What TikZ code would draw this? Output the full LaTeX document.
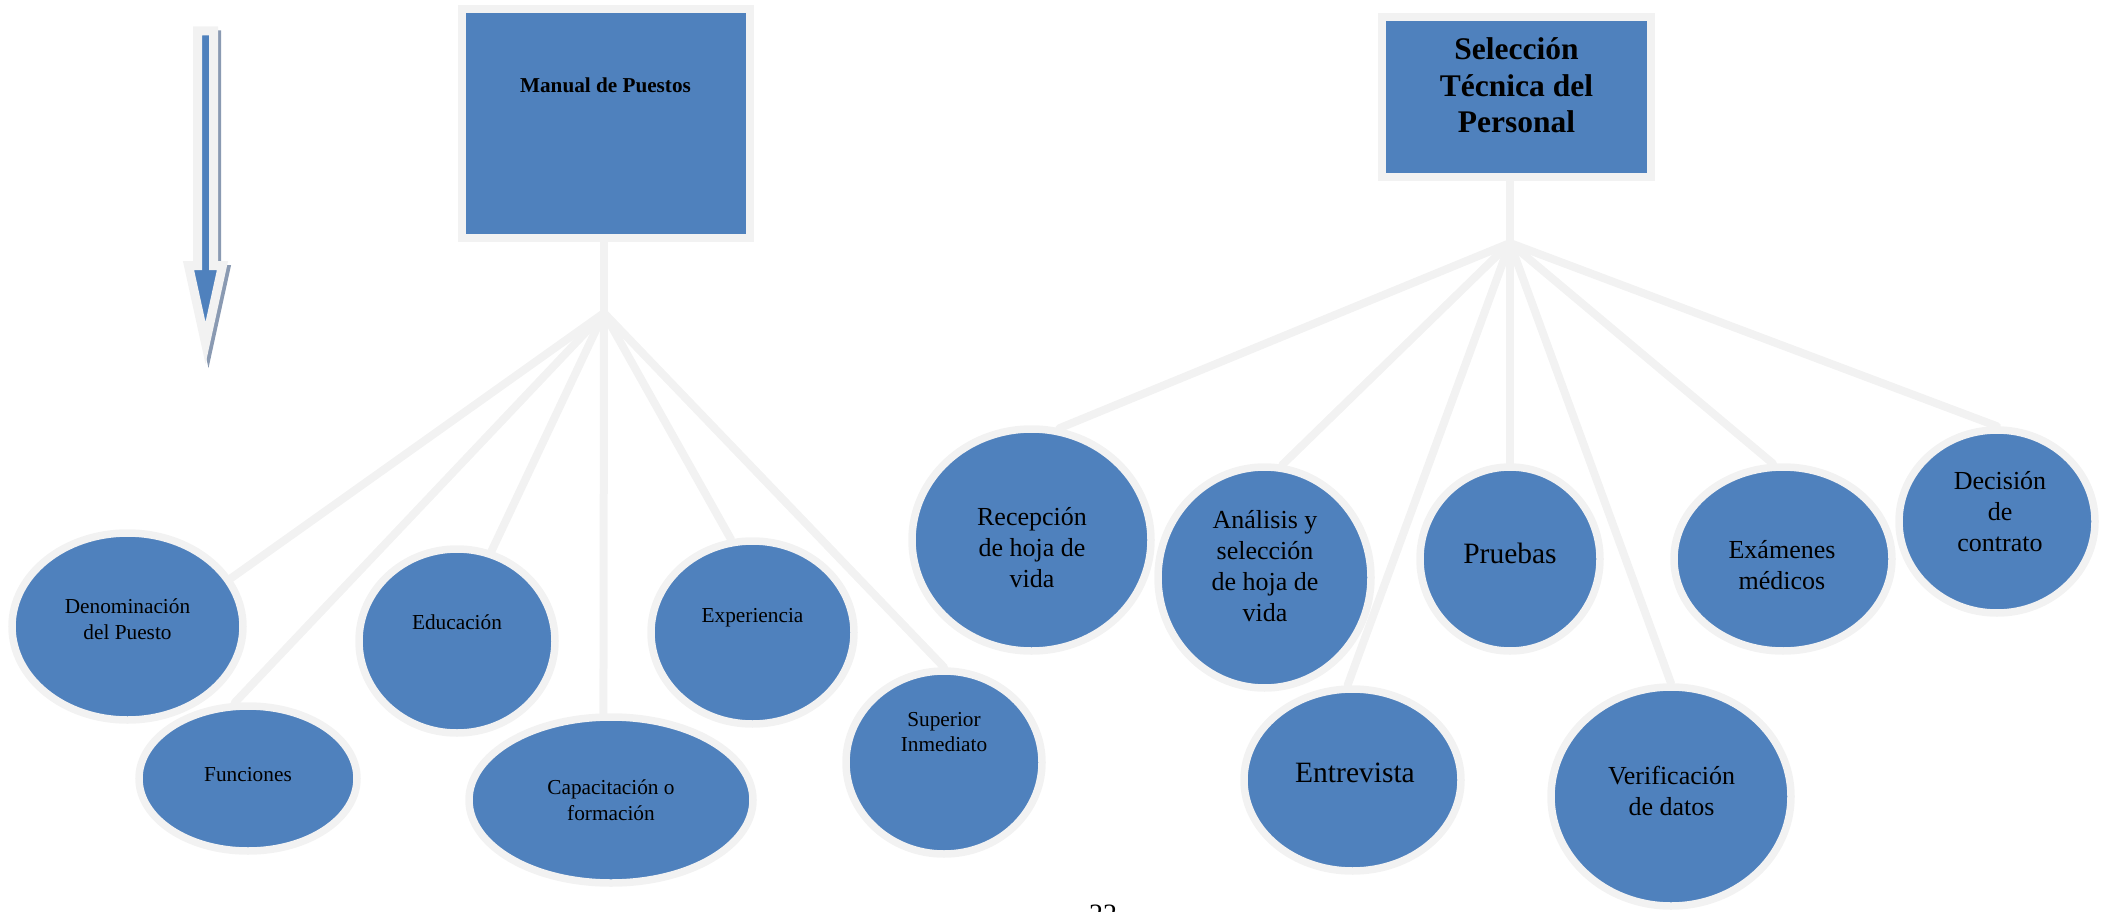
\documentclass[tikz,border=0pt]{standalone}
\usepackage{fontspec}
\setmainfont{Liberation Serif}
\usepackage{tikz}
\usetikzlibrary{shapes.geometric}
\usetikzlibrary{backgrounds}

\definecolor{ofblue}{HTML}{4F81BD}
\definecolor{ofline}{HTML}{F2F2F2}
\definecolor{ofshadow}{HTML}{8A9AB2}

\tikzset{
  box/.style={draw=ofline, fill=ofblue, line width=8pt, inner sep=0pt},
  oval/.style={ellipse, draw=ofline, fill=ofblue, line width=7.5pt, inner sep=0pt},
  link/.style={draw=ofline, line width=8pt, line cap=round},
  stxt/.style={inner sep=0pt, align=center, font=\fontsize{21.3}{25.5}\selectfont},
  btxt/.style={inner sep=0pt, align=center, font=\fontsize{26}{31}\selectfont},
  htxt/.style={inner sep=0pt, align=center, font=\fontsize{29.5}{34}\selectfont},
}

\begin{document}
\begin{tikzpicture}[x=1pt, y=-1pt]
        \useasboundingbox (0,0) rectangle (2103,912);

        % flecha
        \path[fill=ofshadow, draw=ofshadow, line width=9pt, shift={(3,4)}]
          (197.5,31) -- (213.5,31) -- (213.5,265.5) -- (222.5,265.5) -- (205.5,343)
          -- (188.5,265.5) -- (197.5,265.5) -- cycle;
        \path[fill=ofblue, draw=ofline, line width=9pt]
          (197.5,31) -- (213.5,31) -- (213.5,265.5) -- (222.5,265.5) -- (205.5,343)
          -- (188.5,265.5) -- (197.5,265.5) -- cycle;

        % cajas
        \node[box, minimum width=288, minimum height=228.5] (man) at (605.5,123.25) {};
        \node[box, minimum width=269, minimum height=160.5] (sel) at (1516.5,97.25) {};
        \node[inner sep=0pt, font=\bfseries\fontsize{21.2}{25}\selectfont] (man-t) at (605.5,85) {Manual de Puestos};
        \node[inner sep=0pt, align=center, font=\bfseries\fontsize{31.5}{36.5}\selectfont] (sel-t) at (1516.5,85.5) {Selección\\Técnica del\\Personal};

        \coordinate (hubL) at (604,313);
        \coordinate (hubR) at (1510,243);

        % manual de puestos
        \node[oval, minimum width=231, minimum height=187] (den) at (127.5,626.5) {};
        \node[oval, minimum width=218, minimum height=145] (fun) at (248,778.5) {};
        \node[oval, minimum width=196, minimum height=184] (edu) at (457,641) {};
        \node[oval, minimum width=284, minimum height=166] (cap) at (611,800) {};
        \node[oval, minimum width=203, minimum height=183] (exp) at (752.5,632.5) {};
        \node[oval, minimum width=196, minimum height=183] (sup) at (944,762.5) {};

        \node[stxt] (den-t) at (127.5,619) {Denominación\\del Puesto};
        \node[stxt] (fun-t) at (248,775) {Funciones};
        \node[stxt] (edu-t) at (457,622.5) {Educación};
        \node[stxt] (cap-t) at (611,800) {Capacitación o\\formación};
        \node[stxt] (exp-t) at (752.5,618) {Experiencia};
        \node[stxt] (sup-t) at (944,732) {Superior\\Inmediato};

        % seleccion tecnica
        \node[oval, minimum width=239, minimum height=222] (rec) at (1031.5,540) {};
        \node[oval, minimum width=213, minimum height=221] (ana) at (1264.5,577.5) {};
        \node[oval, minimum width=217, minimum height=182] (ent) at (1352.5,780) {};
        \node[oval, minimum width=180, minimum height=184] (pru) at (1510,559) {};
        \node[oval, minimum width=240, minimum height=219] (ver) at (1671,796.5) {};
        \node[oval, minimum width=218, minimum height=184] (exa) at (1783,559) {};
        \node[oval, minimum width=196, minimum height=183] (dec) at (1997,521.5) {};

        \node[btxt] (rec-t) at (1032,547.5) {Recepción\\de hoja de\\vida};
        \node[btxt] (ana-t) at (1265,566.5) {Análisis y\\selección\\de hoja de\\vida};
        \node[htxt] (ent-t) at (1355,773) {Entrevista};
        \node[htxt] (pru-t) at (1510,553) {Pruebas};
        \node[btxt] (ver-t) at (1671.5,791) {Verificación\\de datos};
        \node[btxt] (exa-t) at (1782,565) {Exámenes\\médicos};
        \node[btxt] (dec-t) at (2000,512) {Decisión\\de\\contrato};

        \begin{scope}[on background layer]
          \draw[link] (hubL |- man.south) -- (hubL);
          \foreach \nm/\ang in {den/25, fun/100, edu/69, cap/95, exp/103, sup/90}
            \draw[link] (hubL) -- (\nm.\ang);
          \draw[link] (hubR |- sel.south) -- (hubR);
          \foreach \nm/\ang in {rec/76, ana/81, ent/93, pru/90, ver/90, exa/96, dec/90}
            \draw[link] (hubR) -- (\nm.\ang);
        \end{scope}

        \node[anchor=north, inner sep=0pt, font=\fontsize{28}{32}\selectfont] (pag) at (1103,905) {22};
\end{tikzpicture}
\end{document}
